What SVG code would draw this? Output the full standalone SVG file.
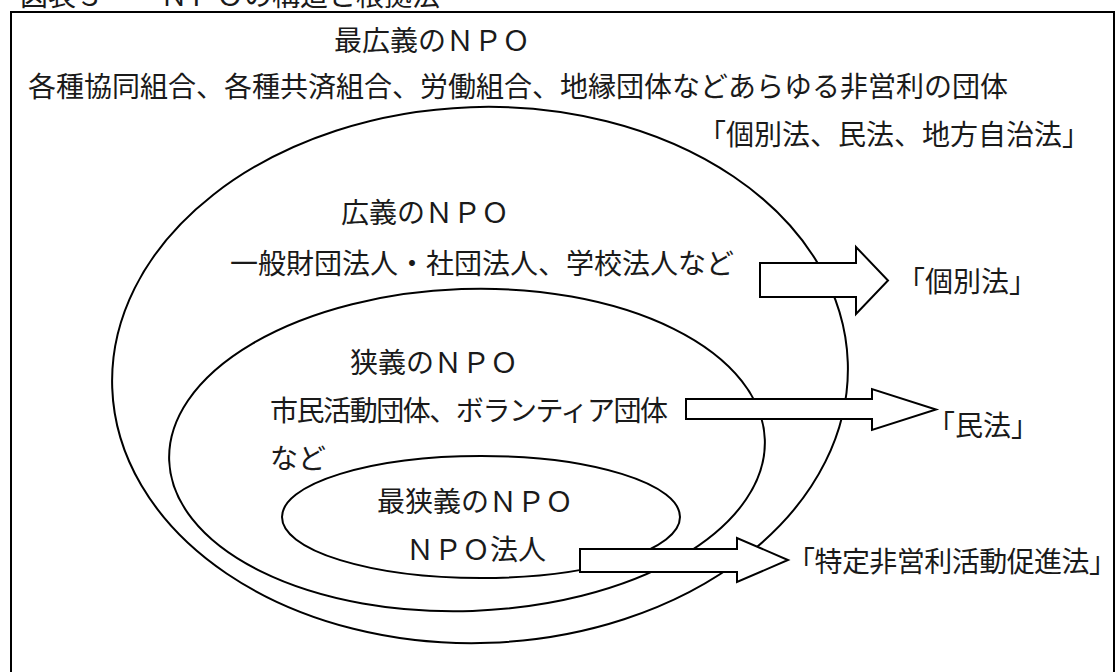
<svg xmlns="http://www.w3.org/2000/svg" width="1116" height="672" viewBox="0 0 1116 672">
<style>
.t{font-family:"Noto Sans CJK JP","Noto Sans CJK SC",sans-serif;font-size:28px;fill:#1a1a1a;}
.title{font-size:28px;}
.shape{fill:none;stroke:#000;stroke-width:2;}
.arrow{fill:#fff;stroke:#000;stroke-width:2;stroke-linejoin:miter;}
</style>
<rect width="1116" height="672" fill="#fff"/>
<g id="title">
<text class="t title" x="20" y="6">図表３　　ＮＰＯの構造と根拠法</text>
</g>
<g id="npo-broadest">
<rect class="shape" x="11" y="12" width="1103" height="700"/>
<text class="t" x="334" y="51">最広義のＮＰＯ</text>
<text class="t" x="28" y="97">各種協同組合、各種共済組合、労働組合、地縁団体などあらゆる非営利の団体</text>
<text class="t" x="698" y="145">「個別法、民法、地方自治法」</text>
</g>
<g id="npo-broad">
<ellipse class="shape" cx="480" cy="375" rx="368" ry="268" transform="rotate(-2 480 375)"/>
<text class="t" x="341" y="223">広義のＮＰＯ</text>
<text class="t" x="230" y="274">一般財団法人・社団法人、学校法人など</text>
</g>
<g id="npo-narrow">
<ellipse class="shape" cx="467" cy="450" rx="298" ry="161" transform="rotate(-2 467 450)"/>
<text class="t" x="350" y="373">狭義のＮＰＯ</text>
<text class="t" x="270" y="421" textLength="398" lengthAdjust="spacing">市民活動団体、ボランティア団体</text>
<text class="t" x="270" y="469">など</text>
</g>
<g id="npo-narrowest">
<ellipse class="shape" cx="481" cy="517" rx="199" ry="61"/>
<text class="t" x="377" y="512">最狭義のＮＰＯ</text>
<text class="t" x="406" y="560">ＮＰＯ法人</text>
</g>
<g id="connectors">
<path class="arrow" d="M760,263 H856 V247 L888,280.5 L856,314 V297 H760 Z"/>
<path class="arrow" d="M686,399 H872 V389 L936,409.5 L872,430 V419 H686 Z"/>
<path class="arrow" d="M580,549 H737 V538 L788,560 L737,582 V572 H580 Z"/>
</g>
<g id="law-individual">
<text class="t" x="897" y="292">「個別法」</text>
</g>
<g id="law-civil">
<text class="t" x="927" y="436">「民法」</text>
</g>
<g id="law-npo">
<text class="t" x="787" y="572" textLength="330" lengthAdjust="spacing">「特定非営利活動促進法」</text>
</g>
</svg>
